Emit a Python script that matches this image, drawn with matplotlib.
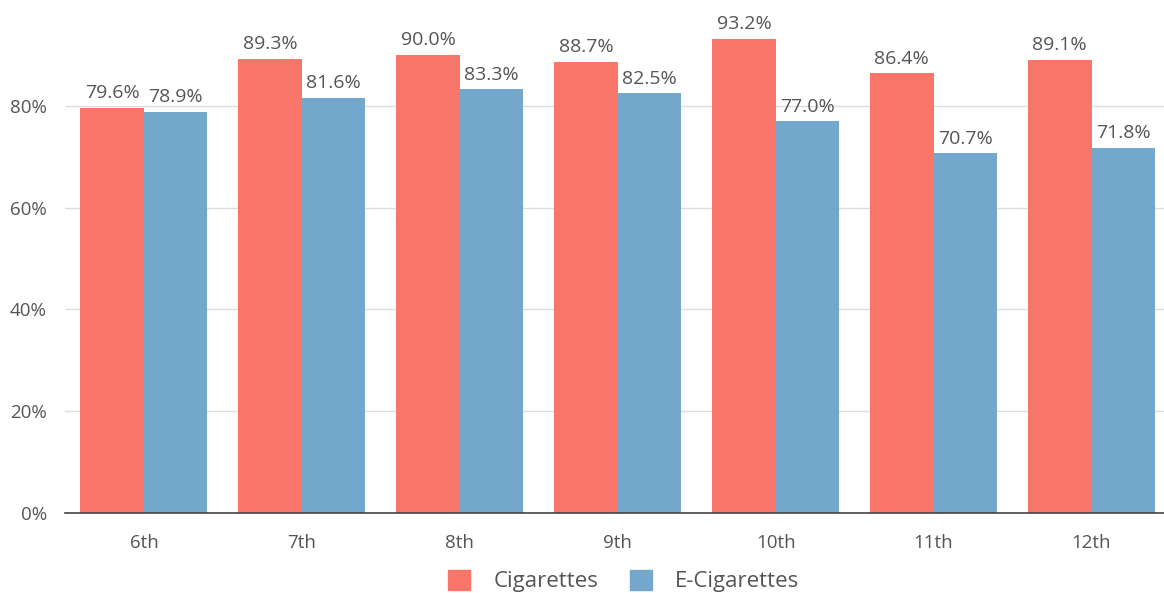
import matplotlib.pyplot as plt
import numpy as np
from matplotlib.patches import Patch

plt.rcParams['font.family'] = ['Open Sans', 'DejaVu Sans']

grades = ['6th', '7th', '8th', '9th', '10th', '11th', '12th']
cigarettes = [79.6, 89.3, 90.0, 88.7, 93.2, 86.4, 89.1]
e_cigarettes = [78.9, 81.6, 83.3, 82.5, 77.0, 70.7, 71.8]

red = '#F8756A'
blue = '#73A7CC'
text_col = '#555555'

fig = plt.figure(figsize=(11.64, 5.93), dpi=100)
# plot area runs slightly past the right edge of the canvas
ax = fig.add_axes([65 / 1164, 0.135, 1105.5 / 1164, 0.858])

x = np.arange(len(grades))
w = 0.402
b1 = ax.bar(x - w / 2, cigarettes, w, color=red, zorder=2)
b2 = ax.bar(x + w / 2, e_cigarettes, w, color=blue, zorder=2)

for bars, vals in ((b1, cigarettes), (b2, e_cigarettes)):
    for bar, v in zip(bars, vals):
        ax.annotate(f'{v:.1f}%', (bar.get_x() + bar.get_width() / 2, v),
                    xytext=(0, 4), textcoords='offset points',
                    ha='center', va='bottom', fontsize=14, color=text_col)

ax.set_xlim(-0.5, len(grades) - 0.5)
ax.set_ylim(0, 100)
ax.set_yticks([0, 20, 40, 60, 80])
ax.set_yticklabels([f'{t}%' for t in [0, 20, 40, 60, 80]])
ax.set_xticks(x)
ax.set_xticklabels(grades)
ax.tick_params(axis='both', length=0, labelsize=13.5, labelcolor=text_col)
ax.tick_params(axis='x', pad=15)
ax.tick_params(axis='y', pad=13)

ax.grid(axis='y', color='#dddddd', linewidth=1, zorder=0)
for s in ['top', 'right', 'left']:
    ax.spines[s].set_visible(False)
ax.spines['bottom'].set_color('#444444')
ax.spines['bottom'].set_linewidth(1.2)
ax.spines['bottom'].set_zorder(3)

handles = [Patch(color=red, label='Cigarettes'), Patch(color=blue, label='E-Cigarettes')]
fig.legend(handles=handles, loc='center', bbox_to_anchor=(0.536, 0.02), ncol=2,
           frameon=False, fontsize=16, labelcolor=text_col,
           handlelength=1.0, handleheight=1.0, columnspacing=1.4, handletextpad=1.05)

fig.savefig('out.png', dpi=100)
